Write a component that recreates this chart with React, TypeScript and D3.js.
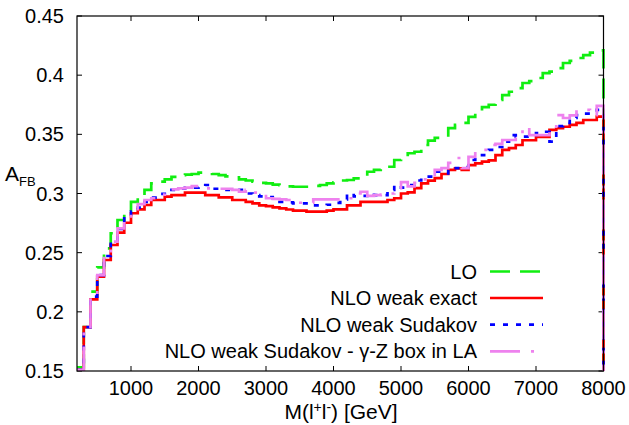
import React from "react";
import * as d3 from "d3";

// Bin edges (GeV): 100 GeV bins from 200 to 8000
const BIN_EDGES: number[] = d3.range(200, 8001, 100);

const X_TICKS = [1000, 2000, 3000, 4000, 5000, 6000, 7000, 8000];
const Y_TICKS = [0.15, 0.2, 0.25, 0.3, 0.35, 0.4, 0.45];
const Y_TICK_LABELS = ["0.15", "0.2", "0.25", "0.3", "0.35", "0.4", "0.45"];

const LEGEND_LABELS = [
  "LO",
  "NLO weak exact",
  "NLO weak Sudakov",
  "NLO weak Sudakov - \u03b3-Z box in LA",
];

// A_FB per bin (78 bins)
const LO = [
  0.153, 0.187, 0.217, 0.2376, 0.2537, 0.2664, 0.2776, 0.285, 0.293, 0.2973,
  0.303, 0.3086, 0.31, 0.312, 0.314, 0.3156, 0.316, 0.3165, 0.3176, 0.3176,
  0.3165, 0.3156, 0.3145, 0.3137, 0.312, 0.311, 0.31, 0.309, 0.3086, 0.3075,
  0.307, 0.306, 0.3057, 0.3057, 0.3057, 0.3065, 0.3072, 0.3086, 0.3095, 0.311,
  0.3114, 0.3128, 0.3142, 0.3184, 0.3199, 0.321, 0.3226, 0.3283, 0.331, 0.334,
  0.3353, 0.341, 0.3446, 0.347, 0.3478, 0.3553, 0.358, 0.3596, 0.3647, 0.368,
  0.373, 0.375, 0.379, 0.3832, 0.386, 0.389, 0.3934, 0.395, 0.3976, 0.4018,
  0.403, 0.406, 0.4103, 0.412, 0.4145, 0.417, 0.419, 0.421,
];

const NLO_EXACT = [
  0.151, 0.187, 0.2106, 0.2297, 0.2438, 0.2565, 0.2669, 0.2753, 0.2833, 0.2866,
  0.2903, 0.2945, 0.2945, 0.2973, 0.2987, 0.2987, 0.3007, 0.3007, 0.3007, 0.2987,
  0.2987, 0.2968, 0.2968, 0.2945, 0.2945, 0.293, 0.2917, 0.29, 0.2894, 0.2883,
  0.2875, 0.2865, 0.2855, 0.2855, 0.2846, 0.2846, 0.2846, 0.2855, 0.2866, 0.2866,
  0.29, 0.29, 0.293, 0.293, 0.293, 0.293, 0.2945, 0.296, 0.3, 0.301,
  0.3046, 0.3086, 0.3108, 0.313, 0.3165, 0.3199, 0.3213, 0.3199, 0.324, 0.3255,
  0.3269, 0.328, 0.3325, 0.3368, 0.3384, 0.341, 0.345, 0.345, 0.3478, 0.3478,
  0.3537, 0.3553, 0.3564, 0.358, 0.3596, 0.3621, 0.3621, 0.3649,
];

const NLO_SUDAKOV = [
  0.151, 0.187, 0.2128, 0.231, 0.2472, 0.2593, 0.27, 0.279, 0.2846, 0.288,
  0.293, 0.2965, 0.2996, 0.301, 0.303, 0.304, 0.305, 0.305, 0.3055, 0.3072,
  0.304, 0.303, 0.303, 0.303, 0.303, 0.3, 0.2987, 0.2975, 0.297, 0.295,
  0.293, 0.2925, 0.2917, 0.2917, 0.2905, 0.29, 0.29, 0.2905, 0.292, 0.295,
  0.3, 0.2975, 0.298, 0.3, 0.2987, 0.2987, 0.303, 0.307, 0.305, 0.307,
  0.311, 0.3142, 0.3142, 0.3184, 0.317, 0.3215, 0.3215, 0.3224, 0.3283, 0.33,
  0.3325, 0.3368, 0.3393, 0.3438, 0.3494, 0.348, 0.348, 0.3494, 0.351, 0.3522,
  0.3438, 0.357, 0.3596, 0.3638, 0.3663, 0.3675, 0.369, 0.3706,
];

const NLO_SUDAKOV_LA = [
  0.151, 0.186, 0.2128, 0.231, 0.2466, 0.2593, 0.2705, 0.278, 0.284, 0.2911,
  0.2945, 0.296, 0.299, 0.3024, 0.3035, 0.3044, 0.305, 0.3063, 0.3063, 0.3044,
  0.3044, 0.304, 0.304, 0.303, 0.3015, 0.303, 0.3007, 0.3007, 0.296, 0.2955,
  0.295, 0.2945, 0.2922, 0.2922, 0.2922, 0.295, 0.295, 0.295, 0.295, 0.295,
  0.296, 0.3, 0.3015, 0.298, 0.2987, 0.299, 0.3, 0.3046, 0.3096, 0.306,
  0.309, 0.312, 0.314, 0.32, 0.3215, 0.3258, 0.33, 0.3215, 0.331, 0.334,
  0.3368, 0.341, 0.342, 0.3452, 0.3452, 0.3494, 0.3562, 0.3494, 0.3494, 0.3494,
  0.352, 0.3663, 0.3638, 0.366, 0.3706, 0.3706, 0.3663, 0.374,
];

const SERIES = [
  { values: LO, color: "#11ee11", dash: "20,10" },
  { values: NLO_EXACT, color: "#ff0000", dash: "" },
  { values: NLO_SUDAKOV, color: "#0000ff", dash: "5,8" },
  { values: NLO_SUDAKOV_LA, color: "#ee82ee", dash: "30,11,3,11" },
];

const W = 629;
const H = 425;
const M = { left: 77, right: 603.5, top: 16, bottom: 371 };
const FONT = "'Liberation Sans', Arial, Helvetica, sans-serif";
const FS = 20;

export default function App() {
  const x = d3.scaleLinear().domain([200, 8000]).range([M.left, M.right]);
  const y = d3.scaleLinear().domain([0.15, 0.45]).range([M.bottom, M.top]);

  const line = d3
    .line<[number, number]>()
    .x((d) => x(d[0]))
    .y((d) => y(d[1]))
    .curve(d3.curveStepAfter);

  const pathFor = (vals: number[]) => {
    const pts: [number, number][] = vals.map((v, i) => [BIN_EDGES[i], v]);
    const last = vals[vals.length - 1];
    pts.push([BIN_EDGES[vals.length], last]);
    pts.push([BIN_EDGES[vals.length], 0.15]);
    return line(pts) || "";
  };

  const legendY = [271.5, 298, 324.7, 351.3];
  const tickLen = 5;

  return (
    <div style={{ position: "fixed", left: 0, top: 0 }}>
      <svg width={W} height={H} style={{ display: "block", background: "#fff" }}>
        <defs>
          <clipPath id="plotclip">
            <rect x={M.left} y={M.top} width={M.right - M.left + 2} height={M.bottom - M.top} />
          </clipPath>
        </defs>
        <rect x={0} y={0} width={W} height={H} fill="#fff" />

        {/* ticks */}
        {X_TICKS.map((t) => (
          <g key={"xt" + t}>
            <line x1={x(t)} x2={x(t)} y1={M.bottom} y2={M.bottom - tickLen} stroke="#000" strokeWidth={1} />
            <line x1={x(t)} x2={x(t)} y1={M.top} y2={M.top + tickLen} stroke="#000" strokeWidth={1} />
            <text
              x={x(t)}
              y={395}
              textAnchor="middle"
              fontFamily={FONT}
              fontSize={FS}
              fill="#000"
            >
              {t}
            </text>
          </g>
        ))}
        {Y_TICKS.map((t, i) => (
          <g key={"yt" + t}>
            <line x1={M.left} x2={M.left + tickLen} y1={y(t)} y2={y(t)} stroke="#000" strokeWidth={1} />
            <line x1={M.right} x2={M.right - tickLen} y1={y(t)} y2={y(t)} stroke="#000" strokeWidth={1} />
            <text
              x={64}
              y={y(t) + 7}
              textAnchor="end"
              fontFamily={FONT}
              fontSize={FS}
              fill="#000"
            >
              {Y_TICK_LABELS[i]}
            </text>
          </g>
        ))}

        {/* series */}
        <g clipPath="url(#plotclip)">
          {SERIES.map((s, i) => (
            <path
              key={"s" + i}
              d={pathFor(s.values)}
              fill="none"
              stroke={s.color}
              strokeWidth={2.7}
              strokeDasharray={s.dash || undefined}
              strokeLinejoin="miter"
            />
          ))}
        </g>

        {/* frame */}
        <rect
          x={M.left}
          y={M.top}
          width={M.right - M.left}
          height={M.bottom - M.top}
          fill="none"
          stroke="#000"
          strokeWidth={1.2}
        />

        {/* legend */}
        {SERIES.map((s, i) => (
          <g key={"lg" + i}>
            <text
              x={477}
              y={legendY[i] + 7}
              textAnchor="end"
              fontFamily={FONT}
              fontSize={FS}
              fill="#000"
            >
              {LEGEND_LABELS[i]}
            </text>
            <line
              x1={490}
              x2={543}
              y1={legendY[i]}
              y2={legendY[i]}
              stroke={s.color}
              strokeWidth={2.7}
              strokeDasharray={s.dash || undefined}
            />
          </g>
        ))}

        {/* axis labels */}
        <text x={5} y={181} fontFamily={FONT} fontSize={21} fill="#000">
          A
          <tspan dy={5} fontSize={13}>
            FB
          </tspan>
        </text>
        <text x={341} y={419} textAnchor="middle" fontFamily={FONT} fontSize={21} fill="#000">
          M(l
          <tspan dy={-7} fontSize={14}>
            +
          </tspan>
          <tspan dy={7}>l</tspan>
          <tspan dy={-7} fontSize={14}>
            -
          </tspan>
          <tspan dy={7}>) [GeV]</tspan>
        </text>
      </svg>
    </div>
  );
}
